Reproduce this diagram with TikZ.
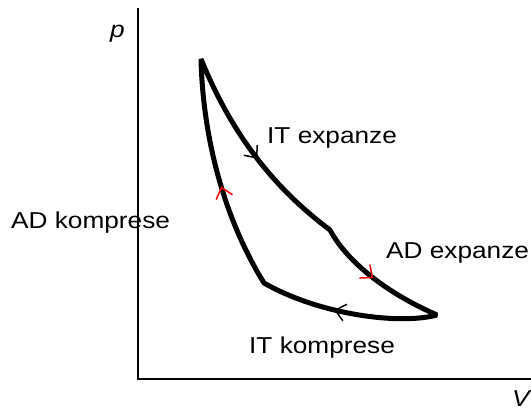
\documentclass[tikz,border=0pt]{standalone}
\usepackage{fontspec}
\setmainfont{Liberation Sans}
\usetikzlibrary{arrows.meta,decorations.markings}
\newcommand\sx[1]{\scalebox{1.14}[1]{#1}}
\begin{document}
\begin{tikzpicture}[x=1pt,y=-1pt,
  lbl/.style={anchor=base west, inner sep=0pt, font=\fontsize{23}{27}\selectfont},
  cyclepath/.style={line width=5pt, line join=bevel},
  axis/.style={line width=1.5pt},
  tipmark/.style 2 args={postaction={decorate}, decoration={markings,
    mark=at position #1 with {\arrow[#2]{Straight Barb[length=10pt,width=17pt,line width=1.5pt]}}}}
]
\useasboundingbox (0,0) rectangle (531,410);
% labels
\node[lbl] (lak) at (11,228) {\sx{AD komprese}};
\node[lbl] (lik) at (249,353) {\sx{IT komprese}};
\node[lbl] (lie) at (267,143) {\sx{IT expanze}};
\node[lbl] (lae) at (386,258) {\sx{AD expanze}};
\node[lbl] (lp) at (110,37) {\sx{\itshape p}};
\node[lbl] (lv) at (512,406) {\sx{\itshape V}};
% axes
\coordinate (O) at (138,379);
\coordinate (Ytop) at (138,8);
\coordinate (Xend) at (531,379);
\draw[axis] (Ytop) -- (O) -- (Xend);
% cycle corners
\coordinate (A) at (201,59);
\coordinate (B) at (330,230);
\coordinate (C) at (437,315);
\coordinate (D) at (264,283);
\draw[cyclepath] (A) .. controls (230,130) and (270,185) .. (B)
  .. controls (345,258) and (380,290) .. (C)
  .. controls (400,325) and (320,315) .. (D)
  .. controls (225,220) and (203,140) .. cycle;
% direction marks
\path[line width=1.5pt, tipmark={0.53}{black}] (A) .. controls (230,130) and (270,185) .. (B);
\path[line width=1.5pt, tipmark={0.47}{red}] (B) .. controls (345,258) and (380,290) .. (C);
\path[line width=1.5pt, tipmark={0.58}{black}] (C) .. controls (400,325) and (320,315) .. (D);
\path[line width=1.5pt, tipmark={0.45}{red}] (D) .. controls (225,220) and (203,140) .. (A);
\end{tikzpicture}
\end{document}
